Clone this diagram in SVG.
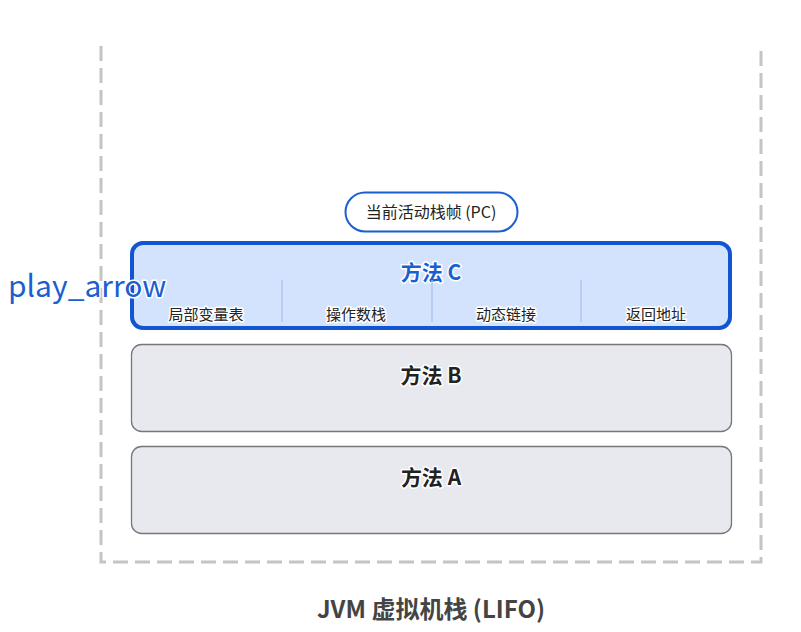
<svg xmlns="http://www.w3.org/2000/svg" width="801" height="632" viewBox="0 0 801 632">
<style>
text{font-family:"Noto Sans CJK SC","Noto Sans",sans-serif;paint-order:stroke;stroke:#fff;stroke-linejoin:round}
.t{font-size:21px;font-weight:700;text-anchor:middle;stroke-width:3px}
.s{font-size:15px;fill:#222;text-anchor:middle;stroke-width:3px}
.frame{fill:#e8e9ee;stroke:#777;stroke-width:1.3}
.div{stroke:#a9c2ec;stroke-width:1.3}
</style>
<rect width="801" height="632" fill="#fff"/>
<g id="container">
<path d="M101,46 V562 H761 V46" fill="none" stroke="#c4c4c4" stroke-width="3" stroke-dasharray="15 7"/>
<text x="431" y="618" font-size="24" font-weight="700" fill="#444" text-anchor="middle" stroke-width="3">JVM 虚拟机栈 (LIFO)</text>
</g>
<g id="connectors"></g>
<g id="pc">
<rect x="345.5" y="192.5" width="172" height="39" rx="19.5" fill="#fff" stroke="#1a5fd0" stroke-width="2"/>
<text class="s" x="431" y="218" font-size="16" style="font-size:16px">当前活动栈帧 (PC)</text>
</g>
<g id="methodC">
<rect x="132" y="243" width="598" height="85" rx="11" fill="#d3e3fd" stroke="#1155d0" stroke-width="4"/>
<text class="t" x="431" y="280" fill="#1a5fd0">方法 C</text>
<line class="div" x1="282" y1="280" x2="282" y2="322"/>
<line class="div" x1="432" y1="280" x2="432" y2="322"/>
<line class="div" x1="581" y1="280" x2="581" y2="322"/>
<text class="s" x="206" y="320">局部变量表</text>
<text class="s" x="356" y="320">操作数栈</text>
<text class="s" x="506" y="320">动态链接</text>
<text class="s" x="656" y="320">返回地址</text>
</g>
<g id="methodB">
<rect class="frame" x="131.5" y="344.5" width="600" height="87" rx="10"/>
<text class="t" x="431" y="383" fill="#222">方法 B</text>
</g>
<g id="methodA">
<rect class="frame" x="131.5" y="446.5" width="600" height="87" rx="10"/>
<text class="t" x="431" y="485" fill="#222">方法 A</text>
</g>
<g id="icon">
<text x="8" y="297" font-size="30" fill="#1a5fd0" stroke-width="3">play_arrow</text>
</g>
</svg>
